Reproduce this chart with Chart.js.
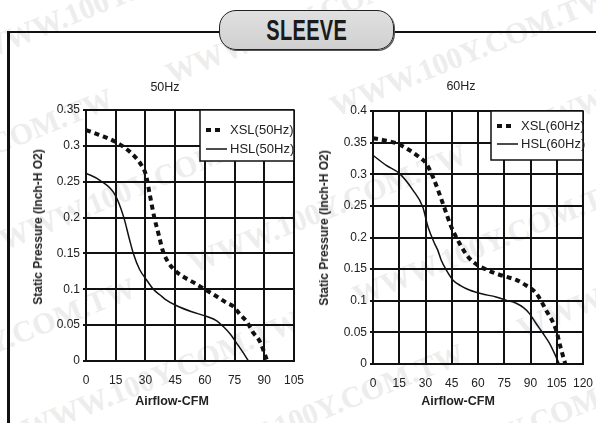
<!DOCTYPE html>
<html>
<head>
<meta charset="utf-8">
<script src="https://cdn.jsdelivr.net/npm/chart.js@4.4.1/dist/chart.umd.min.js"></script>
<style>
  html, body { margin: 0; padding: 0; background: #fff; }
  #page { position: relative; width: 596px; height: 423px; overflow: hidden;
          font-family: 'Liberation Sans', Arial, sans-serif; color: #222; }
  #wm { position: absolute; left: -260px; top: -330px; width: 1300px; z-index: 0;
        transform: rotate(-22deg); transform-origin: 50% 50%;
        font: bold 30px 'Liberation Serif', 'Times New Roman', serif; color: #ededed;
        white-space: nowrap; line-height: 92px; }
  .frame { position: absolute; background: #111; z-index: 2; }
  #pill { position: absolute; left: 219px; top: 10px; width: 175px; height: 40px; box-sizing: border-box;
          border: 1.5px solid #222; border-radius: 17px; z-index: 3;
          background: linear-gradient(#e0e0e0, #d0d0d0); box-shadow: 1px 1px 0 #555;
          display: flex; align-items: center; justify-content: center; }
  #pill span { display: inline-block; font: bold 29px 'Liberation Sans', Arial, sans-serif; color: #1a1a1a;
               transform: scaleX(0.69); margin-top: 1px; letter-spacing: 0.5px; }
  .box { position: absolute; z-index: 1; }
  .lbl { position: absolute; z-index: 2; transform: translate(-50%, -50%); white-space: nowrap; color: #222; }
  .hz { font-size: 12.5px; }
  .xt { font-size: 12.5px; font-weight: bold; }
  .yt { font-size: 12px; font-weight: bold; transform: translate(-50%, -50%) rotate(-90deg); }
</style>
</head>
<body>
<div id="page">
  <div id="wm"></div>
  <div class="frame" style="left:8px; top:31px; width:588px; height:2px;"></div>
  <div class="frame" style="left:7px; top:31px; width:3px; height:392px;"></div>
  <div id="pill"><span>SLEEVE</span></div>

  <div class="box" style="left:14px; top:62px; width:292px; height:358px;"><canvas id="c50" width="292" height="358"></canvas></div>
  <div class="box" style="left:300px; top:62px; width:296px; height:358px;"><canvas id="c60" width="296" height="358"></canvas></div>

  <div class="lbl hz" style="left:165px; top:87px;">50Hz</div>
  <div class="lbl hz" style="left:461px; top:86px;">60Hz</div>
  <div class="lbl xt" style="left:172px; top:401px;">Airflow-CFM</div>
  <div class="lbl xt" style="left:458px; top:401px;">Airflow-CFM</div>
  <div class="lbl yt" style="left:38px; top:227px;">Static Pressure (Inch-H O2)</div>
  <div class="lbl yt" style="left:324px; top:228px;">Static Pressure (Inch-H O2)</div>
</div>

<script>
// ─── DATA ────────────────────────────────────────────────────────────────────
const xTicks50 = [0, 15, 30, 45, 60, 75, 90, 105];
const xTicks60 = [0, 15, 30, 45, 60, 75, 90, 105, 120];
const yTicks50 = [0, 0.05, 0.1, 0.15, 0.2, 0.25, 0.3, 0.35];
const yTicks60 = [0, 0.05, 0.1, 0.15, 0.2, 0.25, 0.3, 0.35, 0.4];
const yLabels50 = ['0', '0.05', '0.1', '0.15', '0.2', '0.25', '0.3', '0.35'];
const yLabels60 = ['0', '0.05', '0.1', '0.15', '0.2', '0.25', '0.3', '0.35', '0.4'];

// 50Hz
const xsl50Flow  = [0, 7, 14.6, 22, 28, 30.3, 32, 34.5, 37, 38.5, 41, 45, 50, 54, 57.5, 66, 71, 74.4, 78, 81.1, 84.3, 87.8, 91.5];
const xsl50Press = [0.322, 0.315, 0.306, 0.292, 0.273, 0.259, 0.235, 0.200, 0.173, 0.156, 0.140, 0.126, 0.116, 0.110, 0.104, 0.090, 0.081, 0.076, 0.064, 0.055, 0.040, 0.027, 0.0];
const hsl50Flow  = [0, 7, 14.6, 19, 22, 23.9, 27, 30.6, 34, 37.4, 40, 45.8, 53, 61, 66, 69.3, 73, 76, 79, 82];
const hsl50Press = [0.262, 0.252, 0.232, 0.201, 0.169, 0.150, 0.128, 0.113, 0.100, 0.092, 0.086, 0.077, 0.069, 0.062, 0.056, 0.048, 0.037, 0.025, 0.013, 0.0];

// 60Hz
const xsl60Flow  = [0, 6, 13.3, 20.9, 26, 30.4, 34.2, 39.9, 44.7, 49.4, 54.2, 59.9, 65, 70.3, 76, 81.8, 87, 93.2, 98.9, 104.6, 107.4, 109.9];
const xsl60Press = [0.357, 0.354, 0.349, 0.338, 0.328, 0.317, 0.296, 0.254, 0.217, 0.191, 0.170, 0.156, 0.149, 0.143, 0.138, 0.133, 0.125, 0.112, 0.085, 0.054, 0.024, 0.0];
const hsl60Flow  = [0, 7.6, 15.2, 22.8, 28.5, 31.4, 35.1, 37, 39, 42, 45.6, 50, 55.1, 62, 70.3, 76, 81.8, 86, 89.3, 93.2, 97, 100.8, 106.5];
const hsl60Press = [0.330, 0.314, 0.301, 0.275, 0.248, 0.217, 0.191, 0.180, 0.164, 0.148, 0.133, 0.124, 0.117, 0.111, 0.106, 0.101, 0.096, 0.089, 0.080, 0.064, 0.049, 0.033, 0.0];

// ─── HELPERS ─────────────────────────────────────────────────────────────────
const $ = id => document.getElementById(id);
const pairs = (xs, ys) => xs.map((x, i) => ({ x, y: ys[i] }));
const INK = '#111';
const FONT = "'Liberation Sans', Arial, sans-serif";

// watermark rows
const WM_TEXT = 'WWW.100Y.COM.TW';
for (let r = 0; r < 9; r++) {
  const row = document.createElement('div');
  row.style.paddingLeft = ((r * 140) % 330) + 'px';
  row.textContent = Array(6).fill(WM_TEXT).join('\u2003\u2003');
  $('wm').appendChild(row);
}

// legend drawn as a white box tucked into the top-right corner of the plot
const boxLegend = {
  id: 'boxLegend',
  afterDatasetsDraw(chart, args, opts) {
    const { ctx, chartArea } = chart;
    const x = chartArea.right - opts.width, y = chartArea.top;
    ctx.save();
    ctx.fillStyle = '#fff';
    ctx.fillRect(x, y, opts.width, opts.height);
    ctx.strokeStyle = INK; ctx.lineWidth = 1.5;
    ctx.strokeRect(x, y, opts.width, opts.height);
    chart.data.datasets.forEach((ds, i) => {
      const ly = Math.round(y + opts.rows[i]);
      ctx.beginPath();
      ctx.setLineDash(ds.borderDash || []);
      ctx.lineWidth = ds.borderWidth;
      ctx.strokeStyle = ds.borderColor;
      ctx.moveTo(x + 6, ly);
      ctx.lineTo(x + 6 + opts.sample[i], ly);
      ctx.stroke();
      ctx.setLineDash([]);
      ctx.fillStyle = '#222';
      ctx.font = '13px ' + FONT;
      ctx.textBaseline = 'middle';
      ctx.fillText(ds.label, x + 30, ly + 0.5);
    });
    ctx.restore();
  }
};

function makeFanChart(canvasId, c) {
  const axisFont = { family: FONT, size: 12 };
  return new Chart($(canvasId), {
    type: 'line',
    data: {
      datasets: [
        { label: c.xslLabel, data: pairs(c.xslX, c.xslY), borderColor: INK, borderWidth: 4,
          borderDash: [5, 4], pointRadius: 0, cubicInterpolationMode: 'monotone', fill: false },
        { label: c.hslLabel, data: pairs(c.hslX, c.hslY), borderColor: INK, borderWidth: 1.5,
          pointRadius: 0, cubicInterpolationMode: 'monotone', fill: false },
      ]
    },
    options: {
      responsive: false, animation: false,
      layout: { padding: { top: c.padTop, right: c.padRight, left: 0, bottom: 0 } },
      plugins: { legend: { display: false }, tooltip: { enabled: false }, boxLegend: c.legend },
      scales: {
        x: {
          type: 'linear', min: 0, max: c.xMax,
          afterBuildTicks: s => { s.ticks = c.xTicks.map(v => ({ value: v })); },
          afterFit: s => { s.height = c.xAxisH; s.paddingLeft = 0; s.paddingRight = 0; },
          grid: { color: INK, lineWidth: 2, drawTicks: false },
          border: { color: INK, width: 2 },
          ticks: { padding: 12, color: '#222', font: axisFont, maxRotation: 0, autoSkip: false,
                   callback: (v, i) => String(c.xTicks[i]) },
        },
        y: {
          type: 'linear', min: 0, max: c.yMax,
          afterBuildTicks: s => { s.ticks = c.yTicks.map(v => ({ value: v })); },
          afterFit: s => { s.width = c.yAxisW; s.paddingTop = 0; s.paddingBottom = 0; },
          grid: { color: INK, lineWidth: 2, tickLength: 3 },
          border: { color: INK, width: 2 },
          ticks: { padding: 3, color: '#222', font: axisFont, autoSkip: false,
                   callback: (v, i) => c.yLabels[i] },
        },
      },
    },
    plugins: [boxLegend],
  });
}

// ─── CHARTS ──────────────────────────────────────────────────────────────────
makeFanChart('c50', {
  xslLabel: 'XSL(50Hz)', hslLabel: 'HSL(50Hz)',
  xslX: xsl50Flow, xslY: xsl50Press, hslX: hsl50Flow, hslY: hsl50Press,
  xMax: 105, yMax: 0.35, xTicks: xTicks50, yTicks: yTicks50, yLabels: yLabels50,
  padTop: 48, padRight: 12, yAxisW: 72, xAxisH: 59,
  legend: { width: 94, height: 51, rows: [20, 38.5], sample: [14, 21] },
});

makeFanChart('c60', {
  xslLabel: 'XSL(60Hz)', hslLabel: 'HSL(60Hz)',
  xslX: xsl60Flow, xslY: xsl60Press, hslX: hsl60Flow, hslY: hsl60Press,
  xMax: 120, yMax: 0.4, xTicks: xTicks60, yTicks: yTicks60, yLabels: yLabels60,
  padTop: 49, padRight: 13, yAxisW: 73, xAxisH: 56,
  legend: { width: 92, height: 49, rows: [14.5, 32.5], sample: [14, 21] },
});
</script>
</body>
</html>
